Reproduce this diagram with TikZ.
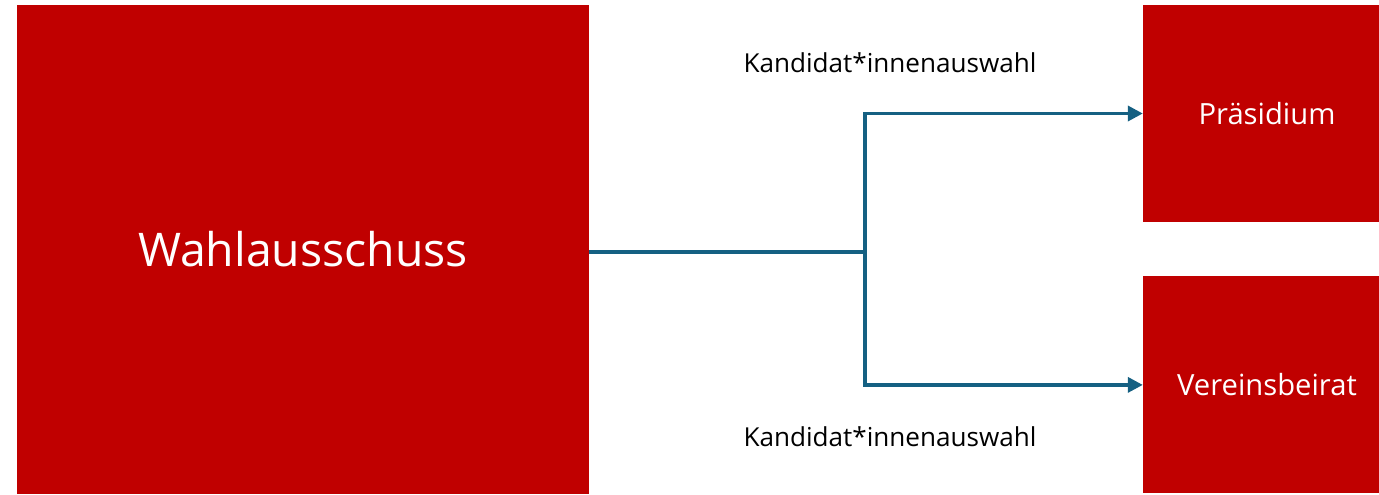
\documentclass[tikz,border=0pt]{standalone}
\usepackage{fontspec}
\setmainfont{Open Sans}
\usetikzlibrary{positioning,arrows.meta}
\definecolor{boxred}{HTML}{C00000}
\definecolor{linkblue}{HTML}{156082}

\begin{document}
\begin{tikzpicture}[x=1pt, y=-1pt,
        box/.style={rectangle, fill=boxred, text=white, inner sep=0pt},
        link/.style={draw=linkblue, line width=3.5pt, -{Triangle[length=15pt,width=15pt]}}]
        \clip (0,0) rectangle (1379,495);
        \node (wahl) [box, minimum width=572pt, minimum height=489pt, font=\fontsize{46.4}{54}\selectfont] at (303,249.5) {Wahlausschuss};
        \node (praes) [box, minimum width=248pt, minimum height=217pt, font=\fontsize{29.2}{35}\selectfont] at (1267,113.5) {Präsidium};
        \node (verein) [box, below=54pt of praes, minimum width=248pt, minimum height=217pt, font=\fontsize{29.2}{35}\selectfont] {Vereinsbeirat};
        \coordinate (split) at (865,252);
        \node (wahltop) at (890,63) [font=\fontsize{26.1}{31}\selectfont] {Kandidat*innenauswahl};
        \node (wahlbottom) at (890,437) [font=\fontsize{26.1}{31}\selectfont] {Kandidat*innenauswahl};
        
        \path[link] (wahl.east |- split) -- (split) |- (praes.west);
        \path[link] (split) |- (verein.west);
    \end{tikzpicture}
\end{document}
